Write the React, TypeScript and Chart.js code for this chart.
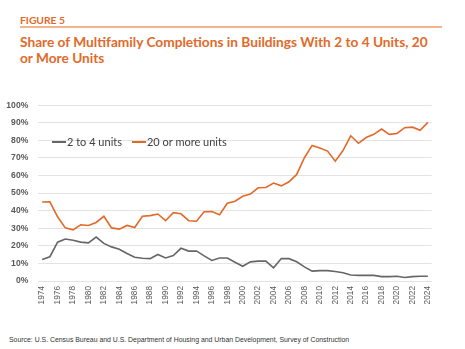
import React, { useEffect, useRef } from "react";
import { Chart, registerables } from "chart.js";

Chart.register(...registerables);

const years = [
  "1974","1975","1976","1977","1978","1979","1980","1981","1982","1983",
  "1984","1985","1986","1987","1988","1989","1990","1991","1992","1993",
  "1994","1995","1996","1997","1998","1999","2000","2001","2002","2003",
  "2004","2005","2006","2007","2008","2009","2010","2011","2012","2013",
  "2014","2015","2016","2017","2018","2019","2020","2021","2022","2023","2024",
];

const twoToFour = [
  12.2, 13.8, 22.1, 23.9, 23.2, 22.1, 21.7, 25.0, 21.4, 19.4,
  18.0, 15.6, 13.5, 12.9, 12.7, 15.1, 13.1, 14.5, 18.6, 17.0,
  17.1, 14.3, 11.7, 13.1, 13.1, 10.7, 8.4, 10.9, 11.3, 11.3,
  7.5, 12.8, 12.7, 10.9, 8.0, 5.6, 5.9, 5.9, 5.4, 4.7,
  3.4, 3.2, 3.2, 3.2, 2.5, 2.5, 2.7, 2.0, 2.5, 2.7, 2.7,
];

const twentyPlus = [
  44.9, 45.0, 36.5, 30.2, 29.1, 32.0, 31.6, 33.3, 36.8, 30.2,
  29.5, 31.6, 30.4, 36.8, 37.2, 38.1, 34.3, 38.9, 38.2, 34.3,
  34.0, 39.4, 39.5, 37.7, 44.2, 45.4, 48.2, 49.4, 53.0, 53.2,
  55.7, 54.1, 56.4, 60.6, 70.1, 77.1, 75.6, 73.9, 68.1, 74.2,
  82.6, 78.3, 81.6, 83.4, 86.4, 83.4, 83.9, 87.2, 87.5, 85.7, 90.2,
];

const seriesLabels = ["2 to 4 units", "20 or more units"];
const seriesColors = ["#666666", "#E2692A"];

const ORANGE = "#E2692A";

export default function App() {
  const canvasRef = useRef<HTMLCanvasElement | null>(null);

  useEffect(() => {
    const canvas = canvasRef.current;
    if (!canvas) return;
    const chart = new Chart(canvas, {
      type: "line",
      data: {
        labels: years,
        datasets: [
          {
            label: seriesLabels[0],
            data: twoToFour,
            borderColor: seriesColors[0],
            backgroundColor: seriesColors[0],
            borderWidth: 1.6,
            pointRadius: 0,
            tension: 0,
          },
          {
            label: seriesLabels[1],
            data: twentyPlus,
            borderColor: seriesColors[1],
            backgroundColor: seriesColors[1],
            borderWidth: 1.6,
            pointRadius: 0,
            tension: 0,
          },
        ],
      },
      options: {
        animation: false,
        responsive: false,
        maintainAspectRatio: false,
        layout: { padding: { top: 5.7, right: 33.3, left: 0, bottom: 0 } },
        plugins: {
          legend: { display: false },
          tooltip: { enabled: false },
        },
        scales: {
          x: {
            offset: true,
            grid: { display: false, drawTicks: false },
            border: { display: false },
            ticks: {
              autoSkip: false,
              maxRotation: 90,
              minRotation: 90,
              padding: 5,
              color: "#595959",
              font: { family: "Liberation Sans", size: 8.3 },
              callback: (_v: any, i: number) => (i % 2 === 0 ? years[i] : ""),
            },
            afterFit: (s: any) => {
              s.height = 49;
            },
          },
          y: {
            min: 0,
            max: 100,
            grid: { color: "#E3E3E3", lineWidth: 1, drawTicks: false },
            border: { display: false },
            ticks: {
              stepSize: 10,
              padding: 10,
              color: "#595959",
              font: { family: "Liberation Sans", size: 8.6, weight: "bold" },
              callback: (v: any) => v + "%",
            },
            afterFit: (s: any) => {
              s.width = 38.3;
            },
          },
        },
      },
    });
    return () => chart.destroy();
  }, []);

  return (
    <div
      style={{
        position: "fixed",
        left: 0,
        top: 0,
        width: 465,
        height: 349,
        background: "#fff",
        overflow: "hidden",
      }}
    >
      <div
        style={{
          position: "absolute",
          left: 20,
          top: 14,
          fontFamily: "Lato",
          fontWeight: 700,
          fontSize: 10.3,
          color: ORANGE,
          lineHeight: "12px",
        }}
      >
        FIGURE 5
      </div>
      <div
        style={{
          position: "absolute",
          left: 20,
          top: 26,
          width: 422,
          height: 1.5,
          background: "#F3B48E",
        }}
      />
      <div
        style={{
          position: "absolute",
          left: 20,
          top: 34,
          fontFamily: "Lato",
          fontWeight: 700,
          fontSize: 13.7,
          color: ORANGE,
          lineHeight: "16px",
          whiteSpace: "nowrap",
        }}
      >
        Share of Multifamily Completions in Buildings With 2 to 4 Units, 20
        <br />
        or More Units
      </div>
      <canvas
        ref={canvasRef}
        width={465}
        height={240}
        style={{ position: "absolute", left: 0, top: 90, width: 465, height: 240 }}
      />
      <div
        style={{
          position: "absolute",
          left: 52,
          top: 134.5,
          display: "flex",
          alignItems: "center",
          fontFamily: "Lato",
          fontSize: 11,
          color: "#404040",
          lineHeight: "14px",
          whiteSpace: "nowrap",
        }}
      >
        {seriesLabels.map((l, i) => (
          <div key={l} style={{ display: "flex", alignItems: "center", marginRight: 10 }}>
            <div style={{ width: 14, height: 2, background: seriesColors[i], marginRight: 1 }} />
            <span>{l}</span>
          </div>
        ))}
      </div>
      <div
        style={{
          position: "absolute",
          left: 9,
          top: 336,
          fontFamily: "Liberation Sans",
          fontSize: 6.9,
          color: "#333",
          lineHeight: "8px",
          whiteSpace: "nowrap",
        }}
      >
        Source: U.S. Census Bureau and U.S. Department of Housing and Urban Development, Survey of Construction
      </div>
    </div>
  );
}
